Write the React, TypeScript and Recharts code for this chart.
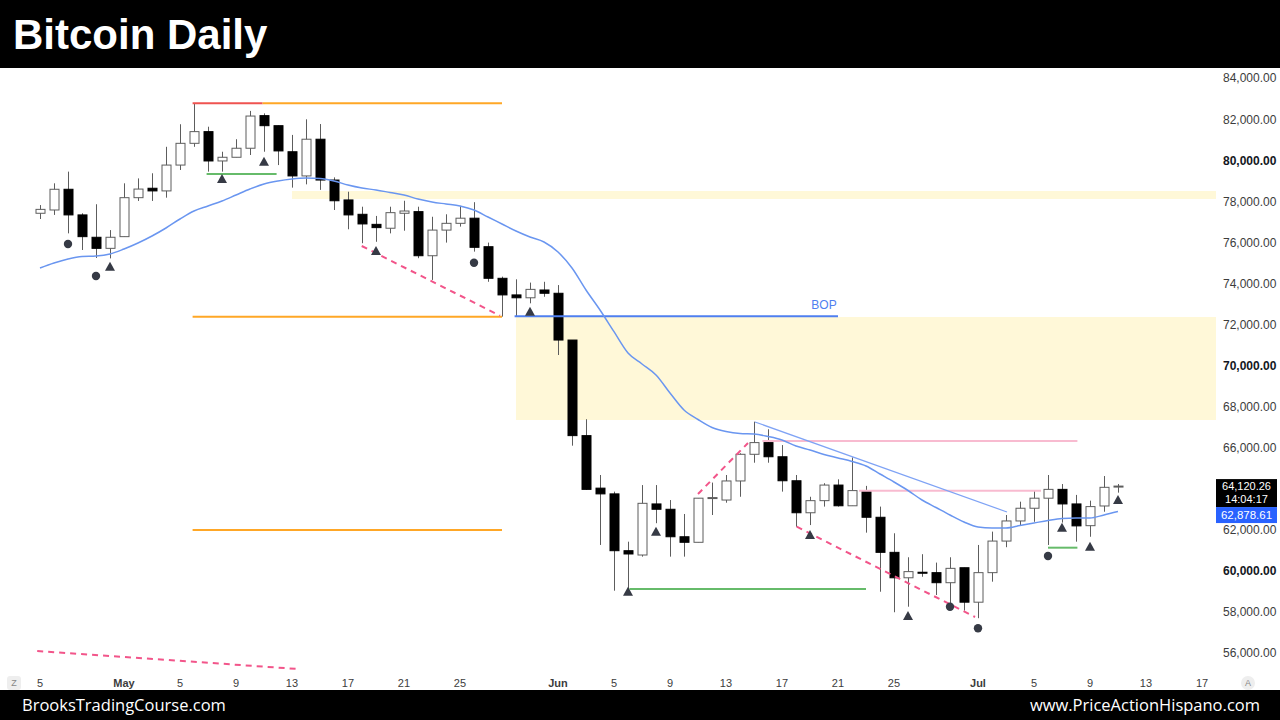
import React from 'react';
import {
  ComposedChart, Bar, Line, XAxis, YAxis, ReferenceLine, ReferenceArea, ReferenceDot, Scatter,
} from 'recharts';

// ---- candle data (day index 0 = Apr 25) ----
const dates = [
  'Apr 25','Apr 26','Apr 27','Apr 28','Apr 29','Apr 30','May 1','May 2','May 3','May 4',
  'May 5','May 6','May 7','May 8','May 9','May 10','May 11','May 12','May 13','May 14',
  'May 15','May 16','May 17','May 18','May 19','May 20','May 21','May 22','May 23','May 24',
  'May 25','May 26','May 27','May 28','May 29','May 30','May 31','Jun 1','Jun 2','Jun 3',
  'Jun 4','Jun 5','Jun 6','Jun 7','Jun 8','Jun 9','Jun 10','Jun 11','Jun 12','Jun 13',
  'Jun 14','Jun 15','Jun 16','Jun 17','Jun 18','Jun 19','Jun 20','Jun 21','Jun 22','Jun 23',
  'Jun 24','Jun 25','Jun 26','Jun 27','Jun 28','Jun 29','Jun 30','Jul 1','Jul 2','Jul 3',
  'Jul 4','Jul 5','Jul 6','Jul 7','Jul 8','Jul 9','Jul 10','Jul 11',
];
const opens = [
  77420,77580,78590,77340,76250,75710,76280,78180,78640,78510,
  79770,80830,81400,79970,80150,80590,82180,81690,80420,79240,
  81030,79040,78070,77370,76880,76690,77420,77500,75350,76600,
  76930,77180,75790,74250,73440,73300,73680,73520,71240,66580,
  64020,63740,60970,60760,63250,62990,61650,61380,63530,63440,
  64370,65670,66240,65550,64380,62820,63410,64170,63160,63900,
  62600,60890,59650,59920,59900,59410,60140,58460,59900,61440,
  62420,63040,63530,63960,63250,62190,63150,64120,
];
const highs = [
  77820,78880,79450,77420,77860,76600,78880,79120,79370,80660,
  81760,82780,81640,80420,81030,82410,82290,81700,81240,82000,
  81770,79170,78470,77740,77290,77740,78030,77740,77250,77370,
  77780,77960,75990,74330,74200,74040,74080,73920,71240,67380,
  64660,63850,61410,64170,64170,63440,62760,63530,64290,64660,
  65720,67260,66890,66120,64660,63600,64260,64450,65520,64130,
  63120,61820,60650,60800,60390,60650,60140,61250,61900,62710,
  63360,63880,64660,64220,63690,63410,64610,64220,
];
const lows = [
  77140,77340,76440,75630,75240,75220,76280,78020,78020,78180,
  79530,80660,79450,79450,80150,80260,80420,79770,78670,78830,
  78560,77580,76640,75960,76030,76440,76570,75230,74170,75990,
  76770,75550,74080,72380,72380,73030,73350,70510,66090,63930,
  61250,59020,59060,60680,62310,60680,60680,61380,62710,63310,
  63600,65260,65260,63850,62140,62220,63120,63120,63160,61850,
  58970,57970,58240,59700,58810,58410,58050,57680,59460,61140,
  62180,62380,61250,62340,61410,61650,62870,63800,
];
const closes = [
  77610,78590,77340,76280,75710,76250,78180,78600,78510,79770,
  80830,81400,79970,80150,80590,82160,81690,80460,79240,81030,
  79040,78030,77340,76900,76720,77450,77530,75350,76600,76930,
  77180,75760,74250,73440,73300,73710,73520,71240,66580,63960,
  63740,60970,60810,63280,62990,61650,61380,63530,63560,64370,
  65670,66240,65550,64380,62820,63410,64170,63160,63900,62600,
  60890,59650,59950,59890,59410,60110,58460,59900,61440,62420,
  63040,63530,63960,63250,62180,63120,64060,64120,
];
const ema20 = [
  74752,74996,75191,75313,75337,75435,75678,75971,76312,76702,
  77141,77531,77775,78018,78311,78603,78847,78993,79091,79140,
  79115,78993,78798,78652,78555,78433,78311,78116,77970,77872,
  77775,77580,77238,76897,76556,76263,76020,75532,74752,73680,
  72705,71647,70608,70072,69536,68658,67830,67366,66976,66781,
  66684,66660,66538,66367,66075,65880,65660,65490,65319,65100,
  64710,64320,63905,63442,63076,62711,62370,62126,62077,62077,
  62199,62321,62443,62540,62565,62565,62711,62879,
];

// ---- axes ----
const xTickIdx = [0, 6, 10, 14, 18, 22, 26, 30, 37, 41, 45, 49, 53, 57, 61, 67, 71, 75, 79, 83];
const xTickLabels = ['5','May','5','9','13','17','21','25','Jun','5','9','13','17','21','25','Jul','5','9','13','17'];
// 64,000.00 is hidden behind the last-price tag in the reference
const yTicks = [56000,58000,60000,62000,66000,68000,70000,72000,74000,76000,78000,80000,82000,84000];
const yBold = [80000, 70000, 60000];

// ---- annotations ----
const triIdx = [5, 13, 16, 24, 35, 42, 44, 55, 62, 73, 75, 77];
const triPrice = [74815, 79091, 79934, 75581, 72622, 58972, 61897, 61736, 57787, 62092, 61165, 63442];
const dotIdx = [2, 4, 31, 65, 67, 72];
const dotPrice = [75922, 74362, 75010, 58240, 57187, 60712];

const zoneA = { x1: 18, x2: 84, y1: 78116, y2: 78506 };
const zoneB = { x1: 34, x2: 84, y1: 67342, y2: 72363 };

const hLines = [
  { x1: 10.9, x2: 15.9, y: 82781, color: '#ef5350' },
  { x1: 15.9, x2: 33, y: 82781, color: '#ffa726' },
  { x1: 10.9, x2: 33, y: 72378, color: '#ffa726' },
  { x1: 10.9, x2: 33, y: 61980, color: '#ffa726' },
  { x1: 11.9, x2: 16.9, y: 79335, color: '#66bb6a' },
  { x1: 42.1, x2: 59, y: 59103, color: '#66bb6a' },
  { x1: 72, x2: 74.1, y: 61117, color: '#66bb6a' },
  { x1: 33.9, x2: 57, y: 72402, color: '#4f7ff0' },
  { x1: 51.6, x2: 74.1, y: 66318, color: '#f8bbd0' },
  { x1: 58.5, x2: 71.5, y: 63895, color: '#f8bbd0' },
];
const dashLines = [
  { x1: 22.98, y1: 75825, x2: 32.86, y2: 72427 },
  { x1: 47, y1: 63735, x2: 50.57, y2: 66221 },
  { x1: 54.05, y1: 62140, x2: 66.79, y2: 57738 },
  { x1: -0.2, y1: 56081, x2: 18.43, y2: 55203 },
];
const trendLine = { x1: 51.07, y1: 67245, x2: 69.07, y2: 62857 };

const lastPrice = 64120.26;
const lastEma = 62878.61;
const countdown = '14:04:17';

const data = opens.map((o, k) => ({
  i: k,
  date: dates[k],
  open: o,
  high: highs[k],
  low: lows[k],
  close: closes[k],
  ema: ema20[k],
  range: [lows[k], highs[k]],
}));
const triData = triIdx.map((i, k) => ({ i, p: triPrice[k] }));
const dotData = dotIdx.map((i, k) => ({ i, p: dotPrice[k] }));

const fmt = (v: number) =>
  v.toLocaleString('en-US', { minimumFractionDigits: 2, maximumFractionDigits: 2 });

const FONT = '"Liberation Sans", Arial, sans-serif';

const Candle = (props: any) => {
  const { x, y, width, height, payload } = props;
  if (!payload || x == null) return null;
  const { open, close, high, low } = payload;
  const cx = Math.round(x + width / 2) + 0.5;
  const h = Math.abs(height);
  const top = height >= 0 ? y : y + height;
  const toY = (v: number) => (high === low ? top : top + ((high - v) / (high - low)) * h);
  const yo = toY(open);
  const yc = toY(close);
  const bull = close >= open;
  const bw = 9;
  const bTop = Math.min(yo, yc);
  const bH = Math.max(Math.abs(yc - yo), 1);
  return (
    <g>
      <line x1={cx} x2={cx} y1={top} y2={top + h} stroke="#5d5d5d" strokeWidth={1} />
      <rect
        x={cx - bw / 2}
        y={bTop}
        width={bw}
        height={bH}
        fill={bull ? '#ffffff' : '#000000'}
        stroke={bull ? '#5d5d5d' : '#000000'}
        strokeWidth={1}
      />
    </g>
  );
};

const Tri = (props: any) => {
  const { cx, cy } = props;
  if (cx == null) return null;
  return <path d={`M${cx} ${cy - 5}L${cx + 5} ${cy + 4}L${cx - 5} ${cy + 4}Z`} fill="#363a45" />;
};
const Dot = (props: any) => {
  const { cx, cy } = props;
  if (cx == null) return null;
  return <circle cx={cx} cy={cy} r={4.2} fill="#363a45" />;
};

const YTick = (props: any) => {
  const { x, y, payload } = props;
  const bold = yBold.includes(payload.value);
  return (
    <text x={x + 7} y={y} dy="0.35em" fontSize={12} fontFamily={FONT}
      fill={bold ? '#131722' : '#3c3c3c'} fontWeight={bold ? 700 : 400}>
      {fmt(payload.value)}
    </text>
  );
};

const XTick = (props: any) => {
  const { x, y, payload } = props;
  const k = xTickIdx.indexOf(payload.value);
  const label = k >= 0 ? xTickLabels[k] : '';
  const bold = label === 'May' || label === 'Jun' || label === 'Jul';
  return (
    <text x={x} y={y + 4} dy="0.71em" textAnchor="middle" fontSize={11} fontFamily={FONT}
      fill="#3c3c3c" fontWeight={bold ? 700 : 400}>
      {label}
    </text>
  );
};

const PriceTag = (props: any) => {
  const { cx, cy } = props;
  if (cx == null) return null;
  return (
    <g>
      <rect x={cx} y={cy - 7} width={61} height={28} fill="#000" />
      <text x={cx + 30.5} y={cy + 4} textAnchor="middle" fontSize={11} fontFamily={FONT} fill="#fff">
        {fmt(lastPrice)}
      </text>
      <text x={cx + 30.5} y={cy + 17} textAnchor="middle" fontSize={11} fontFamily={FONT} fill="#fff">
        {countdown}
      </text>
    </g>
  );
};
const EmaTag = (props: any) => {
  const { cx, cy } = props;
  if (cx == null) return null;
  return (
    <g>
      <rect x={cx} y={cy - 4.5} width={61} height={16} fill="#2962ff" />
      <text x={cx + 30.5} y={cy + 7.5} textAnchor="middle" fontSize={11.5} fontFamily={FONT} fill="#fff">
        {fmt(lastEma)}
      </text>
    </g>
  );
};
const BopText = (props: any) => {
  const { cx, cy } = props;
  if (cx == null) return null;
  return (
    <text x={cx} y={cy} dy="0.35em" textAnchor="middle" fontSize={12} fontFamily={FONT} fill="#4f7ff0">
      BOP
    </text>
  );
};

export default function App() {
  return (
    <div style={{ position: 'fixed', left: 0, top: 0, width: 1280, height: 720, background: '#fff', overflow: 'hidden' }}>
      <div style={{ position: 'absolute', left: 0, top: 0 }}>
        <ComposedChart width={1280} height={720} data={data} margin={{ top: 68, right: 0, bottom: 30, left: 0 }}>
          <XAxis dataKey="i" type="number" domain={[-2.857, 84]} allowDataOverflow ticks={xTickIdx}
            tick={<XTick />} tickLine={false} axisLine={false} tickSize={0} height={17} interval={0} />
          <YAxis orientation="right" type="number" domain={[55008, 84502]} allowDataOverflow ticks={yTicks}
            tick={<YTick />} tickLine={false} axisLine={false} tickSize={0} tickMargin={0} width={64} interval={0} />
          <ReferenceArea x1={zoneA.x1} x2={zoneA.x2} y1={zoneA.y1} y2={zoneA.y2} fill="#fff8d8" fillOpacity={1} stroke="none" ifOverflow="hidden" />
          <ReferenceArea x1={zoneB.x1} x2={zoneB.x2} y1={zoneB.y1} y2={zoneB.y2} fill="#fff8d8" fillOpacity={1} stroke="none" ifOverflow="hidden" />
          {hLines.map((l, k) => (
            <ReferenceLine key={'h' + k} segment={[{ x: l.x1, y: l.y }, { x: l.x2, y: l.y }]} stroke={l.color} strokeWidth={2} ifOverflow="visible" />
          ))}
          {dashLines.map((l, k) => (
            <ReferenceLine key={'d' + k} segment={[{ x: l.x1, y: l.y1 }, { x: l.x2, y: l.y2 }]} stroke="#f2558a" strokeWidth={2} strokeDasharray="6 5" ifOverflow="visible" />
          ))}
          <ReferenceLine segment={[{ x: trendLine.x1, y: trendLine.y1 }, { x: trendLine.x2, y: trendLine.y2 }]} stroke="#7fa3f5" strokeWidth={1.2} ifOverflow="visible" />
          <Line type="monotone" dataKey="ema" stroke="#6a96f0" strokeWidth={1.5} dot={false} isAnimationActive={false} />
          <Bar dataKey="range" barSize={9} shape={<Candle />} isAnimationActive={false} />
          <Scatter data={triData} dataKey="p" shape={<Tri />} isAnimationActive={false} />
          <Scatter data={dotData} dataKey="p" shape={<Dot />} isAnimationActive={false} />
          <ReferenceDot x={56} y={72948} r={0} shape={<BopText />} ifOverflow="visible" />
          <ReferenceDot x={84} y={lastPrice} r={0} shape={<PriceTag />} ifOverflow="visible" />
          <ReferenceDot x={84} y={lastEma} r={0} shape={<EmaTag />} ifOverflow="visible" />
        </ComposedChart>
      </div>
      <div style={{ position: 'absolute', left: 0, top: 0, width: 1280, height: 68, background: '#000' }}>
        <div style={{ position: 'absolute', left: 13, top: 11, color: '#fff', fontFamily: FONT, fontWeight: 700, fontSize: 42, lineHeight: '48px', whiteSpace: 'nowrap' }}>
          Bitcoin Daily
        </div>
      </div>
      <div style={{ position: 'absolute', left: 7, top: 676, width: 14, height: 14, borderRadius: 3, background: '#eeeeee', color: '#888', fontSize: 9, fontFamily: FONT, textAlign: 'center', lineHeight: '14px' }}>Z</div>
      <div style={{ position: 'absolute', left: 1241, top: 676, width: 14, height: 14, borderRadius: 7, background: '#eeeeee', color: '#888', fontSize: 9, fontFamily: FONT, textAlign: 'center', lineHeight: '14px' }}>A</div>
      <div style={{ position: 'absolute', left: 0, top: 690, width: 1280, height: 30, background: '#000' }}>
        <div style={{ position: 'absolute', left: 22, top: 4, color: '#fff', fontFamily: '"Open Sans", sans-serif', fontSize: 16.5, lineHeight: '22px', whiteSpace: 'nowrap' }}>
          BrooksTradingCourse.com
        </div>
        <div style={{ position: 'absolute', right: 20, top: 4, color: '#fff', fontFamily: '"Open Sans", sans-serif', fontSize: 16.5, lineHeight: '22px', whiteSpace: 'nowrap' }}>
          www.PriceActionHispano.com
        </div>
      </div>
    </div>
  );
}
